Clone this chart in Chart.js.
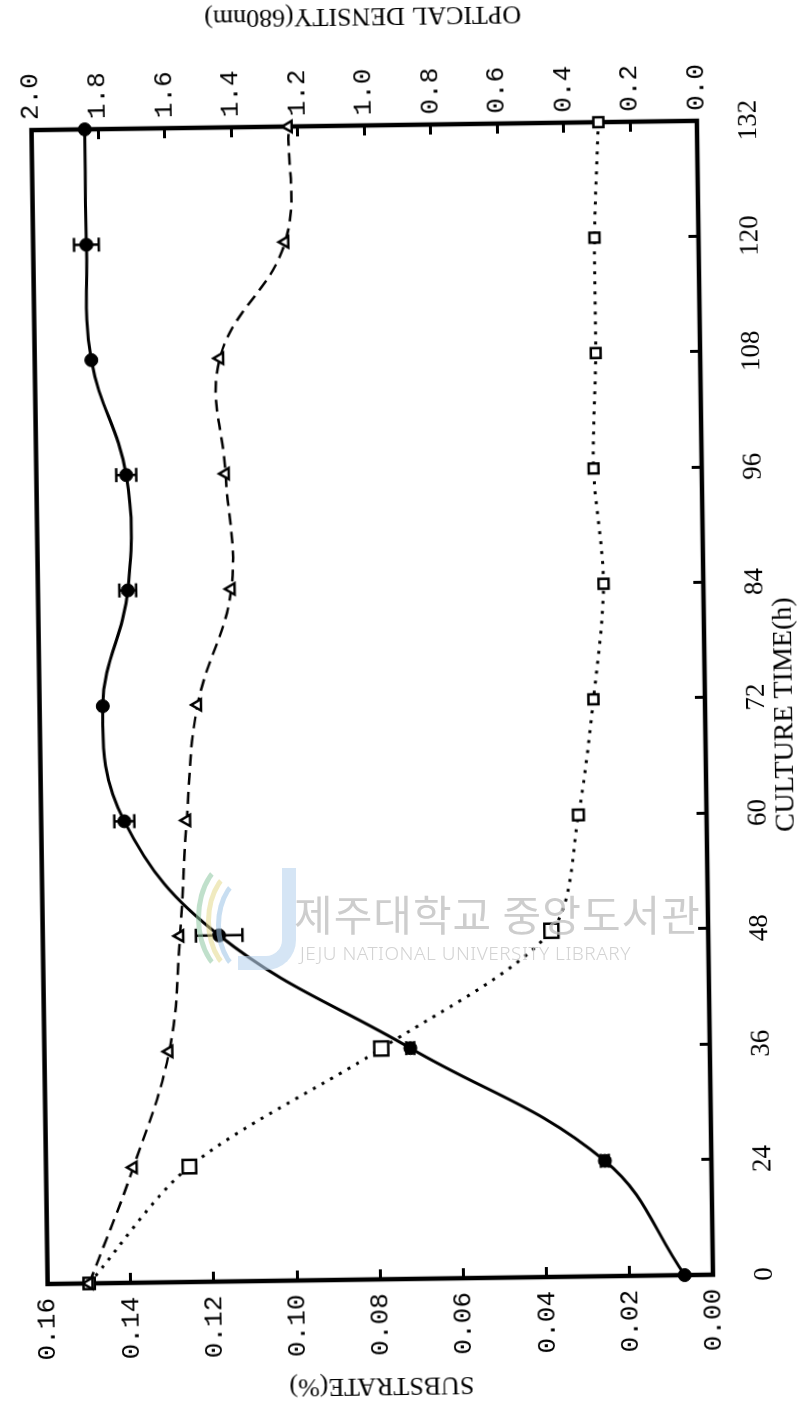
<!DOCTYPE html>
<html>
<head>
<meta charset="utf-8">
<script src="https://cdn.jsdelivr.net/npm/chart.js@4.4.1/dist/chart.umd.min.js"></script>
<style>
  html, body { margin: 0; padding: 0; background: #fff; overflow: hidden; }
  body { width: 804px; height: 1412px; position: relative; }
  /* the figure is laid out landscape and turned to stand upright on the page */
  #turn { position: absolute; left: -304px; top: 304px; width: 1412px; height: 804px;
          transform: rotate(-90.8deg); transform-origin: 50% 50%; }
  #turn canvas { display: block; }
  #stamp { position: absolute; left: 0; top: 0; width: 804px; height: 1412px; pointer-events: none; }
  #stamp .ko { position: absolute; left: 294px; top: 882px; font: 400 42px "Noto Sans CJK KR", sans-serif;
               color: #bdbdbd; opacity: 0.75; letter-spacing: 1px; white-space: nowrap; }
  #stamp .en { position: absolute; left: 300px; top: 940px; font: 300 19px "Noto Sans", sans-serif;
               color: #c4c4c4; opacity: 0.75; letter-spacing: 0.5px; white-space: nowrap; }
  #stamp .arc { position: absolute; border-radius: 50%; border: 5px solid transparent; opacity: 0.55; }
  #stamp .a1 { left: 196px; top: 858px; width: 70px; height: 110px; border-left-color: #8cc6a0; }
  #stamp .a2 { left: 206px; top: 866px; width: 64px; height: 100px; border-left-color: #e4d98a; }
  #stamp .a3 { left: 216px; top: 874px; width: 58px; height: 92px; border-left-color: #9cc3e6; }
  #stamp .j { position: absolute; left: 238px; top: 868px; width: 44px; height: 88px;
              border-right: 14px solid #b9d4ee; border-bottom: 14px solid #b9d4ee;
              border-bottom-right-radius: 30px; opacity: 0.6; }
</style>
</head>
<body>
<div id="turn"><canvas id="chart" width="1412" height="804"></canvas></div>
<div id="stamp">
  <div class="arc a1"></div><div class="arc a2"></div><div class="arc a3"></div><div class="j"></div>
  <div class="ko">제주대학교 중앙도서관</div>
  <div class="en">JEJU NATIONAL UNIVERSITY LIBRARY</div>
</div>
<script>
// culture time categories (h)
const cultureTime = ['0', '24', '36', '48', '60', '72', '84', '96', '108', '120', '132'];
// optical density at 680 nm (filled circles) and its spread
const opticalDensity = [0.085, 0.32, 0.90, 1.47, 1.75, 1.81, 1.73, 1.73, 1.83, 1.84, 1.84];
const opticalDensityErr = [0, 0.012, 0.012, 0.07, 0.03, 0, 0.025, 0.03, 0, 0.037, 0];
// substrate concentrations (%): triangles / dashed and squares / dotted
const substrateTriangle = [0.150, 0.139, 0.130, 0.127, 0.125, 0.122, 0.1135, 0.1145, 0.1155, 0.0994, 0.0982];
const substrateSquare = [0.150, 0.1255, 0.079, 0.0377, 0.0308, 0.0268, 0.024, 0.026, 0.0251, 0.025, 0.0237];

const axisTitles = { time: 'CULTURE TIME(h)', substrate: 'SUBSTRATE(%)', density: 'OPTICAL DENSITY(680nm)' };

const ink = '#000';
const serif = '"Liberation Serif", "Times New Roman", serif';
const mono = '"Liberation Mono", "DejaVu Sans Mono", monospace';

const inwardTicks = { display: true, drawOnChartArea: false, drawTicks: true, tickLength: -10, tickWidth: 3, tickColor: ink };

// heavy box around the plotting area
const frame = {
  id: 'frame',
  beforeDatasetsDraw(chart) {
    const { ctx, chartArea: a } = chart;
    ctx.save();
    ctx.strokeStyle = ink;
    ctx.lineWidth = 4.5;
    ctx.lineJoin = 'miter';
    ctx.strokeRect(a.left, a.top, a.right - a.left, a.bottom - a.top);
    ctx.restore();
  }
};

// error bars on the optical density points
const errorBars = {
  id: 'errorBars',
  afterDatasetsDraw(chart) {
    const { ctx } = chart;
    const meta = chart.getDatasetMeta(0);
    const y = chart.scales.od;
    ctx.save();
    ctx.strokeStyle = ink;
    ctx.lineWidth = 2.5;
    meta.data.forEach((pt, i) => {
      const e = opticalDensityErr[i];
      if (!e) return;
      const v = opticalDensity[i];
      const y1 = y.getPixelForValue(v + e), y2 = y.getPixelForValue(v - e);
      const cap = 7;
      ctx.beginPath();
      ctx.moveTo(pt.x, y1); ctx.lineTo(pt.x, y2);
      ctx.moveTo(pt.x - cap, y1); ctx.lineTo(pt.x + cap, y1);
      ctx.moveTo(pt.x - cap, y2); ctx.lineTo(pt.x + cap, y2);
      ctx.stroke();
    });
    ctx.restore();
  }
};

// axis titles; both value-axis titles read upward
const titles = {
  id: 'titles',
  afterDraw(chart) {
    const { ctx, chartArea: a, scales } = chart;
    const midY = (a.top + a.bottom) / 2;
    ctx.save();
    ctx.fillStyle = ink;
    ctx.textAlign = 'center';
    ctx.textBaseline = 'middle';

    ctx.font = '28px ' + serif;
    ctx.fillText(axisTitles.time, (a.left + a.right) / 2 - 18, scales.x.bottom - 19);

    ctx.font = '26px ' + serif;
    ctx.save();
    ctx.translate(scales.sub.left + 27, midY);
    ctx.rotate(-Math.PI / 2);
    ctx.fillText(axisTitles.substrate, 0, 0);
    ctx.restore();

    ctx.save();
    ctx.translate(scales.od.right - 15, midY);
    ctx.rotate(-Math.PI / 2);
    ctx.fillText(axisTitles.density, 0, 0);
    ctx.restore();
    ctx.restore();
  }
};

new Chart(document.getElementById('chart'), {
  type: 'line',
  data: {
    labels: cultureTime,
    datasets: [
      {
        label: 'OD', data: opticalDensity, yAxisID: 'od', clip: false,
        borderColor: ink, borderWidth: 3, tension: 0.4,
        pointStyle: 'circle', pointRadius: 6.5,
        pointBackgroundColor: ink, pointBorderColor: ink, pointBorderWidth: 1
      },
      {
        label: 'Substrate (triangle)', data: substrateTriangle, yAxisID: 'sub', clip: false,
        borderColor: ink, borderWidth: 2.5, borderDash: [12, 7], tension: 0.4,
        pointStyle: 'triangle', pointRadius: 6.5,
        pointBackgroundColor: '#fff', pointBorderColor: ink, pointBorderWidth: 2.5
      },
      {
        label: 'Substrate (square)', data: substrateSquare, yAxisID: 'sub', clip: false,
        borderColor: ink, borderWidth: 3, borderDash: [3, 7], tension: 0.3,
        pointStyle: 'rect', pointRadius: [8, 9.5, 10, 10, 7.5, 7, 7, 7, 7, 7, 7],
        pointBackgroundColor: '#fff', pointBorderColor: ink, pointBorderWidth: 2.5
      }
    ]
  },
  options: {
    responsive: false,
    animation: false,
    devicePixelRatio: 1,
    layout: { padding: { top: 22, left: 0, right: 0, bottom: 0 } },
    plugins: { legend: { display: false }, tooltip: { enabled: false } },
    scales: {
      x: {
        type: 'category', position: 'bottom', offset: false,
        border: { display: false },
        grid: inwardTicks,
        ticks: { color: ink, font: { family: serif, size: 27 }, padding: 46, maxRotation: 0, autoSkip: false },
        afterFit(s) { s.height = 99; }
      },
      sub: {
        type: 'linear', position: 'left', min: 0, max: 0.16,
        border: { display: false },
        grid: inwardTicks,
        ticks: { stepSize: 0.02, color: ink, font: { family: mono, size: 26 }, padding: 24,
                 callback: v => v.toFixed(2) },
        afterFit(s) { s.width = 133; }
      },
      od: {
        type: 'linear', position: 'right', min: 0, max: 2.0,
        border: { display: false },
        grid: inwardTicks,
        ticks: { stepSize: 0.2, color: ink, font: { family: mono, size: 26 }, padding: 20,
                 callback: v => v.toFixed(1) },
        afterFit(s) { s.width = 125; }
      }
    }
  },
  plugins: [frame, errorBars, titles]
});
</script>
</body>
</html>
